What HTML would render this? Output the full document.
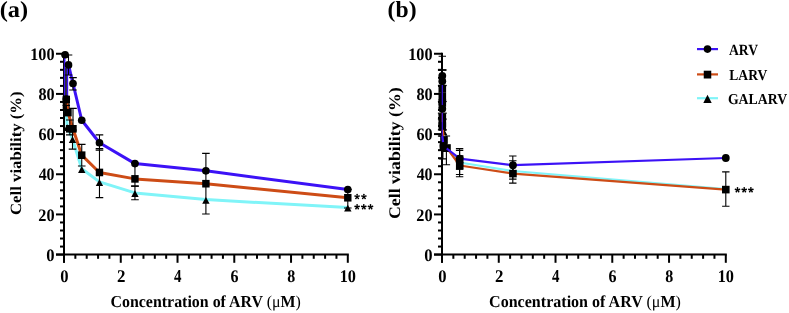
<!DOCTYPE html>
<html><head><meta charset="utf-8"><style>
html,body{margin:0;padding:0;background:#fff;width:789px;height:313px;overflow:hidden}
svg{display:block;will-change:transform}
text{font-family:"Liberation Serif",serif;font-weight:bold;fill:#000;text-rendering:geometricPrecision}
</style></head><body>
<svg width="789" height="313" viewBox="0 0 789 313">
<text font-size="23" transform="matrix(1.0586 0 0 0.9976 -0.26 16.84)">(a)</text>
<path d="M64.0 52.75V262.8" stroke="#000" stroke-width="2" fill="none"/>
<path d="M56.0 254.6H348.8" stroke="#000" stroke-width="2" fill="none"/>
<path d="M56.0 254.60H64.0" stroke="#000" stroke-width="2"/>
<path d="M60.0 246.57H64.0" stroke="#000" stroke-width="2"/>
<path d="M60.0 238.53H64.0" stroke="#000" stroke-width="2"/>
<path d="M60.0 230.50H64.0" stroke="#000" stroke-width="2"/>
<path d="M60.0 222.46H64.0" stroke="#000" stroke-width="2"/>
<path d="M56.0 214.43H64.0" stroke="#000" stroke-width="2"/>
<path d="M60.0 206.40H64.0" stroke="#000" stroke-width="2"/>
<path d="M60.0 198.36H64.0" stroke="#000" stroke-width="2"/>
<path d="M60.0 190.33H64.0" stroke="#000" stroke-width="2"/>
<path d="M60.0 182.29H64.0" stroke="#000" stroke-width="2"/>
<path d="M56.0 174.26H64.0" stroke="#000" stroke-width="2"/>
<path d="M60.0 166.23H64.0" stroke="#000" stroke-width="2"/>
<path d="M60.0 158.19H64.0" stroke="#000" stroke-width="2"/>
<path d="M60.0 150.16H64.0" stroke="#000" stroke-width="2"/>
<path d="M60.0 142.12H64.0" stroke="#000" stroke-width="2"/>
<path d="M56.0 134.09H64.0" stroke="#000" stroke-width="2"/>
<path d="M60.0 126.06H64.0" stroke="#000" stroke-width="2"/>
<path d="M60.0 118.02H64.0" stroke="#000" stroke-width="2"/>
<path d="M60.0 109.99H64.0" stroke="#000" stroke-width="2"/>
<path d="M60.0 101.95H64.0" stroke="#000" stroke-width="2"/>
<path d="M56.0 93.92H64.0" stroke="#000" stroke-width="2"/>
<path d="M60.0 85.89H64.0" stroke="#000" stroke-width="2"/>
<path d="M60.0 77.85H64.0" stroke="#000" stroke-width="2"/>
<path d="M60.0 69.82H64.0" stroke="#000" stroke-width="2"/>
<path d="M60.0 61.78H64.0" stroke="#000" stroke-width="2"/>
<path d="M56.0 53.75H64.0" stroke="#000" stroke-width="2"/>
<path d="M64.00 254.6V262.8" stroke="#000" stroke-width="2"/>
<path d="M75.35 254.6V258.8" stroke="#000" stroke-width="2"/>
<path d="M86.70 254.6V258.8" stroke="#000" stroke-width="2"/>
<path d="M98.06 254.6V258.8" stroke="#000" stroke-width="2"/>
<path d="M109.41 254.6V258.8" stroke="#000" stroke-width="2"/>
<path d="M120.76 254.6V262.8" stroke="#000" stroke-width="2"/>
<path d="M132.11 254.6V258.8" stroke="#000" stroke-width="2"/>
<path d="M143.46 254.6V258.8" stroke="#000" stroke-width="2"/>
<path d="M154.82 254.6V258.8" stroke="#000" stroke-width="2"/>
<path d="M166.17 254.6V258.8" stroke="#000" stroke-width="2"/>
<path d="M177.52 254.6V262.8" stroke="#000" stroke-width="2"/>
<path d="M188.87 254.6V258.8" stroke="#000" stroke-width="2"/>
<path d="M200.22 254.6V258.8" stroke="#000" stroke-width="2"/>
<path d="M211.58 254.6V258.8" stroke="#000" stroke-width="2"/>
<path d="M222.93 254.6V258.8" stroke="#000" stroke-width="2"/>
<path d="M234.28 254.6V262.8" stroke="#000" stroke-width="2"/>
<path d="M245.63 254.6V258.8" stroke="#000" stroke-width="2"/>
<path d="M256.98 254.6V258.8" stroke="#000" stroke-width="2"/>
<path d="M268.34 254.6V258.8" stroke="#000" stroke-width="2"/>
<path d="M279.69 254.6V258.8" stroke="#000" stroke-width="2"/>
<path d="M291.04 254.6V262.8" stroke="#000" stroke-width="2"/>
<path d="M302.39 254.6V258.8" stroke="#000" stroke-width="2"/>
<path d="M313.74 254.6V258.8" stroke="#000" stroke-width="2"/>
<path d="M325.10 254.6V258.8" stroke="#000" stroke-width="2"/>
<path d="M336.45 254.6V258.8" stroke="#000" stroke-width="2"/>
<path d="M347.80 254.6V262.8" stroke="#000" stroke-width="2"/>
<text font-size="16" transform="matrix(1.0370 0 0 1.0977 46.25 260.76)">0</text>
<text font-size="16" transform="matrix(1.0169 0 0 1.0977 38.26 220.59)">20</text>
<text font-size="16" transform="matrix(0.9917 0 0 1.0977 38.65 180.42)">40</text>
<text font-size="16" transform="matrix(1.0084 0 0 1.0977 38.40 140.25)">60</text>
<text font-size="16" transform="matrix(1.0084 0 0 1.0977 38.40 100.08)">80</text>
<text font-size="16" transform="matrix(1.0124 0 0 1.0977 30.23 59.91)">100</text>
<text font-size="16" transform="matrix(1.0370 0 0 1.1070 60.15 281.56)">0</text>
<text font-size="16" transform="matrix(1.0566 0 0 1.1200 116.90 281.70)">2</text>
<text font-size="16" transform="matrix(0.9333 0 0 1.1333 174.09 281.70)">4</text>
<text font-size="16" transform="matrix(1.0000 0 0 1.1070 230.58 281.56)">6</text>
<text font-size="16" transform="matrix(1.0000 0 0 1.1070 287.34 281.56)">8</text>
<text font-size="16" transform="matrix(1.0195 0 0 1.1070 339.63 281.56)">10</text>
<text font-size="16" transform="matrix(0.9955 0 0 1.0462 110.45 307.07)">Concentration of ARV <tspan font-weight="normal">(μ</tspan>M<tspan font-weight="normal">)</tspan></text>
<text font-size="16" transform="matrix(0 -1.0458 0.9778 0 20.88 214.98)">Cell viability (%)</text>
<path d="M66.00 106.00L67.20 127.00L72.50 139.00L81.74 168.80L99.47 181.90L134.95 192.90L205.90 199.60L347.80 207.50" stroke="#80f4f8" stroke-width="3" fill="none" stroke-linejoin="round"/>
<rect x="62.70" y="103.30" width="7.0" height="7.0" fill="#000"/>
<path d="M66.30 99.50L68.00 112.60L73.00 128.80L81.74 155.18L99.47 172.45L134.95 178.88L205.90 183.70L347.80 197.76" stroke="#cd4c16" stroke-width="3" fill="none" stroke-linejoin="round"/>
<path d="M64.70 56.00L64.70 98.00L67.40 98.00L67.40 64.90" stroke="#3c12f6" stroke-width="1.6" fill="none" stroke-linejoin="round"/>
<path d="M68.50 64.90L73.00 83.50L81.74 120.23L99.47 142.73L134.95 163.61L205.90 170.85L347.80 189.52" stroke="#3c12f6" stroke-width="3" fill="none" stroke-linejoin="round"/>
<path d="M65.10 55.00V55.00M61.30 55.00H68.90M61.30 55.00H68.90" stroke="#000" stroke-width="1.1" fill="none"/>
<path d="M68.50 55.00V75.00M64.70 55.00H72.30M64.70 75.00H72.30" stroke="#000" stroke-width="1.1" fill="none"/>
<path d="M73.00 77.60V90.00M69.20 77.60H76.80M69.20 90.00H76.80" stroke="#000" stroke-width="1.1" fill="none"/>
<path d="M73.00 108.40V130.00M69.20 108.40H76.80M69.20 130.00H76.80" stroke="#000" stroke-width="1.1" fill="none"/>
<path d="M72.50 131.00V149.10M68.70 131.00H76.30M68.70 149.10H76.30" stroke="#000" stroke-width="1.1" fill="none"/>
<path d="M69.80 120.00V134.90M66.00 120.00H73.60M66.00 134.90H73.60" stroke="#000" stroke-width="1.1" fill="none"/>
<path d="M81.74 144.40V166.00M77.94 144.40H85.54M77.94 166.00H85.54" stroke="#000" stroke-width="1.1" fill="none"/>
<path d="M99.47 134.90V150.10M95.67 134.90H103.27M95.67 150.10H103.27" stroke="#000" stroke-width="1.1" fill="none"/>
<path d="M99.47 148.60V197.60M95.67 148.60H103.27M95.67 197.60H103.27" stroke="#000" stroke-width="1.1" fill="none"/>
<path d="M134.95 163.20V186.10M131.15 163.20H138.75M131.15 186.10H138.75" stroke="#000" stroke-width="1.1" fill="none"/>
<path d="M134.95 186.10V199.80M131.15 186.10H138.75M131.15 199.80H138.75" stroke="#000" stroke-width="1.1" fill="none"/>
<path d="M205.90 153.40V214.00M202.10 153.40H209.70M202.10 214.00H209.70" stroke="#000" stroke-width="1.1" fill="none"/>
<path d="M347.80 189.50V208.00M344.00 189.50H351.60M344.00 208.00H351.60" stroke="#000" stroke-width="1.1" fill="none"/>
<path d="M66.30 105.50V110.00M62.60 105.50H70.00M62.60 110.00H70.00" stroke="#000" stroke-width="1.1" fill="none"/>
<path d="M66.0 68V110" stroke="#000" stroke-width="1.4"/>
<path d="M67.20 124.30L70.90 131.10L63.50 131.10Z" fill="#000"/>
<path d="M72.50 136.30L76.20 143.10L68.80 143.10Z" fill="#000"/>
<path d="M81.74 166.10L85.44 172.90L78.04 172.90Z" fill="#000"/>
<path d="M99.47 179.20L103.17 186.00L95.77 186.00Z" fill="#000"/>
<path d="M134.95 190.20L138.65 197.00L131.25 197.00Z" fill="#000"/>
<path d="M205.90 196.90L209.60 203.70L202.20 203.70Z" fill="#000"/>
<path d="M347.80 204.80L351.50 211.60L344.10 211.60Z" fill="#000"/>
<rect x="62.60" y="95.70" width="7.4" height="7.6" fill="#000"/>
<rect x="64.30" y="108.80" width="7.4" height="7.6" fill="#000"/>
<rect x="69.30" y="125.00" width="7.4" height="7.6" fill="#000"/>
<rect x="78.04" y="151.38" width="7.4" height="7.6" fill="#000"/>
<rect x="95.77" y="168.65" width="7.4" height="7.6" fill="#000"/>
<rect x="131.25" y="175.08" width="7.4" height="7.6" fill="#000"/>
<rect x="202.20" y="179.90" width="7.4" height="7.6" fill="#000"/>
<rect x="344.10" y="193.96" width="7.4" height="7.6" fill="#000"/>
<rect x="65.90" y="125.00" width="7.4" height="7.6" fill="#000"/>
<ellipse cx="65.11" cy="54.75" rx="3.85" ry="3.85" fill="#000"/>
<ellipse cx="66.30" cy="99.00" rx="3.85" ry="3.85" fill="#000"/>
<ellipse cx="68.50" cy="64.90" rx="3.85" ry="3.85" fill="#000"/>
<ellipse cx="73.00" cy="83.50" rx="3.85" ry="3.85" fill="#000"/>
<ellipse cx="81.74" cy="120.23" rx="3.85" ry="3.85" fill="#000"/>
<ellipse cx="99.47" cy="142.73" rx="3.85" ry="3.85" fill="#000"/>
<ellipse cx="134.95" cy="163.61" rx="3.85" ry="3.85" fill="#000"/>
<ellipse cx="205.90" cy="170.85" rx="3.85" ry="3.85" fill="#000"/>
<ellipse cx="347.80" cy="189.52" rx="3.85" ry="3.85" fill="#000"/>
<path d="M357.35 196.70L357.95 194.60A0.85 0.85 0 0 0 356.25 194.60L356.85 196.70ZM357.18 196.94L359.36 196.86A0.85 0.85 0 0 0 358.83 195.24L357.02 196.46ZM356.90 196.85L357.65 198.90A0.85 0.85 0 0 0 359.02 197.90L357.30 196.55ZM356.90 196.55L355.18 197.90A0.85 0.85 0 0 0 356.55 198.90L357.30 196.85ZM357.18 196.46L355.37 195.24A0.85 0.85 0 0 0 354.84 196.86L357.02 196.94Z" fill="#000"/>
<circle cx="357.10" cy="196.70" r="0.9" fill="#000"/>
<path d="M364.15 196.70L364.75 194.60A0.85 0.85 0 0 0 363.05 194.60L363.65 196.70ZM363.98 196.94L366.16 196.86A0.85 0.85 0 0 0 365.63 195.24L363.82 196.46ZM363.70 196.85L364.45 198.90A0.85 0.85 0 0 0 365.82 197.90L364.10 196.55ZM363.70 196.55L361.98 197.90A0.85 0.85 0 0 0 363.35 198.90L364.10 196.85ZM363.98 196.46L362.17 195.24A0.85 0.85 0 0 0 361.64 196.86L363.82 196.94Z" fill="#000"/>
<circle cx="363.90" cy="196.70" r="0.9" fill="#000"/>
<path d="M357.35 207.00L357.95 204.90A0.85 0.85 0 0 0 356.25 204.90L356.85 207.00ZM357.18 207.24L359.36 207.16A0.85 0.85 0 0 0 358.83 205.54L357.02 206.76ZM356.90 207.15L357.65 209.20A0.85 0.85 0 0 0 359.02 208.20L357.30 206.85ZM356.90 206.85L355.18 208.20A0.85 0.85 0 0 0 356.55 209.20L357.30 207.15ZM357.18 206.76L355.37 205.54A0.85 0.85 0 0 0 354.84 207.16L357.02 207.24Z" fill="#000"/>
<circle cx="357.10" cy="207.00" r="0.9" fill="#000"/>
<path d="M364.05 207.00L364.65 204.90A0.85 0.85 0 0 0 362.95 204.90L363.55 207.00ZM363.88 207.24L366.06 207.16A0.85 0.85 0 0 0 365.53 205.54L363.72 206.76ZM363.60 207.15L364.35 209.20A0.85 0.85 0 0 0 365.72 208.20L364.00 206.85ZM363.60 206.85L361.88 208.20A0.85 0.85 0 0 0 363.25 209.20L364.00 207.15ZM363.88 206.76L362.07 205.54A0.85 0.85 0 0 0 361.54 207.16L363.72 207.24Z" fill="#000"/>
<circle cx="363.80" cy="207.00" r="0.9" fill="#000"/>
<path d="M370.75 207.00L371.35 204.90A0.85 0.85 0 0 0 369.65 204.90L370.25 207.00ZM370.58 207.24L372.76 207.16A0.85 0.85 0 0 0 372.23 205.54L370.42 206.76ZM370.30 207.15L371.05 209.20A0.85 0.85 0 0 0 372.42 208.20L370.70 206.85ZM370.30 206.85L368.58 208.20A0.85 0.85 0 0 0 369.95 209.20L370.70 207.15ZM370.58 206.76L368.77 205.54A0.85 0.85 0 0 0 368.24 207.16L370.42 207.24Z" fill="#000"/>
<circle cx="370.50" cy="207.00" r="0.9" fill="#000"/>
<text font-size="23" transform="matrix(1.0297 0 0 1.0060 387.57 17.10)">(b)</text>
<path d="M442.0 52.75V262.8" stroke="#000" stroke-width="2" fill="none"/>
<path d="M434.0 254.6H726.8" stroke="#000" stroke-width="2" fill="none"/>
<path d="M434.0 254.60H442.0" stroke="#000" stroke-width="2"/>
<path d="M438.0 246.57H442.0" stroke="#000" stroke-width="2"/>
<path d="M438.0 238.53H442.0" stroke="#000" stroke-width="2"/>
<path d="M438.0 230.50H442.0" stroke="#000" stroke-width="2"/>
<path d="M438.0 222.46H442.0" stroke="#000" stroke-width="2"/>
<path d="M434.0 214.43H442.0" stroke="#000" stroke-width="2"/>
<path d="M438.0 206.40H442.0" stroke="#000" stroke-width="2"/>
<path d="M438.0 198.36H442.0" stroke="#000" stroke-width="2"/>
<path d="M438.0 190.33H442.0" stroke="#000" stroke-width="2"/>
<path d="M438.0 182.29H442.0" stroke="#000" stroke-width="2"/>
<path d="M434.0 174.26H442.0" stroke="#000" stroke-width="2"/>
<path d="M438.0 166.23H442.0" stroke="#000" stroke-width="2"/>
<path d="M438.0 158.19H442.0" stroke="#000" stroke-width="2"/>
<path d="M438.0 150.16H442.0" stroke="#000" stroke-width="2"/>
<path d="M438.0 142.12H442.0" stroke="#000" stroke-width="2"/>
<path d="M434.0 134.09H442.0" stroke="#000" stroke-width="2"/>
<path d="M438.0 126.06H442.0" stroke="#000" stroke-width="2"/>
<path d="M438.0 118.02H442.0" stroke="#000" stroke-width="2"/>
<path d="M438.0 109.99H442.0" stroke="#000" stroke-width="2"/>
<path d="M438.0 101.95H442.0" stroke="#000" stroke-width="2"/>
<path d="M434.0 93.92H442.0" stroke="#000" stroke-width="2"/>
<path d="M438.0 85.89H442.0" stroke="#000" stroke-width="2"/>
<path d="M438.0 77.85H442.0" stroke="#000" stroke-width="2"/>
<path d="M438.0 69.82H442.0" stroke="#000" stroke-width="2"/>
<path d="M438.0 61.78H442.0" stroke="#000" stroke-width="2"/>
<path d="M434.0 53.75H442.0" stroke="#000" stroke-width="2"/>
<path d="M442.00 254.6V262.8" stroke="#000" stroke-width="2"/>
<path d="M453.35 254.6V258.8" stroke="#000" stroke-width="2"/>
<path d="M464.70 254.6V258.8" stroke="#000" stroke-width="2"/>
<path d="M476.06 254.6V258.8" stroke="#000" stroke-width="2"/>
<path d="M487.41 254.6V258.8" stroke="#000" stroke-width="2"/>
<path d="M498.76 254.6V262.8" stroke="#000" stroke-width="2"/>
<path d="M510.11 254.6V258.8" stroke="#000" stroke-width="2"/>
<path d="M521.46 254.6V258.8" stroke="#000" stroke-width="2"/>
<path d="M532.82 254.6V258.8" stroke="#000" stroke-width="2"/>
<path d="M544.17 254.6V258.8" stroke="#000" stroke-width="2"/>
<path d="M555.52 254.6V262.8" stroke="#000" stroke-width="2"/>
<path d="M566.87 254.6V258.8" stroke="#000" stroke-width="2"/>
<path d="M578.22 254.6V258.8" stroke="#000" stroke-width="2"/>
<path d="M589.58 254.6V258.8" stroke="#000" stroke-width="2"/>
<path d="M600.93 254.6V258.8" stroke="#000" stroke-width="2"/>
<path d="M612.28 254.6V262.8" stroke="#000" stroke-width="2"/>
<path d="M623.63 254.6V258.8" stroke="#000" stroke-width="2"/>
<path d="M634.98 254.6V258.8" stroke="#000" stroke-width="2"/>
<path d="M646.34 254.6V258.8" stroke="#000" stroke-width="2"/>
<path d="M657.69 254.6V258.8" stroke="#000" stroke-width="2"/>
<path d="M669.04 254.6V262.8" stroke="#000" stroke-width="2"/>
<path d="M680.39 254.6V258.8" stroke="#000" stroke-width="2"/>
<path d="M691.74 254.6V258.8" stroke="#000" stroke-width="2"/>
<path d="M703.10 254.6V258.8" stroke="#000" stroke-width="2"/>
<path d="M714.45 254.6V258.8" stroke="#000" stroke-width="2"/>
<path d="M725.80 254.6V262.8" stroke="#000" stroke-width="2"/>
<text font-size="16" transform="matrix(1.0370 0 0 1.0977 424.25 260.76)">0</text>
<text font-size="16" transform="matrix(1.0169 0 0 1.0977 416.26 220.59)">20</text>
<text font-size="16" transform="matrix(0.9917 0 0 1.0977 416.65 180.42)">40</text>
<text font-size="16" transform="matrix(1.0084 0 0 1.0977 416.40 140.25)">60</text>
<text font-size="16" transform="matrix(1.0084 0 0 1.0977 416.40 100.08)">80</text>
<text font-size="16" transform="matrix(1.0124 0 0 1.0977 408.23 59.91)">100</text>
<text font-size="16" transform="matrix(1.0370 0 0 1.1070 438.15 281.56)">0</text>
<text font-size="16" transform="matrix(1.0566 0 0 1.1200 494.90 281.70)">2</text>
<text font-size="16" transform="matrix(0.9333 0 0 1.1333 552.09 281.70)">4</text>
<text font-size="16" transform="matrix(1.0000 0 0 1.1070 608.58 281.56)">6</text>
<text font-size="16" transform="matrix(1.0000 0 0 1.1070 665.34 281.56)">8</text>
<text font-size="16" transform="matrix(1.0195 0 0 1.1070 717.63 281.56)">10</text>
<text font-size="16" transform="matrix(1.0034 0 0 1.0462 489.05 307.07)">Concentration of ARV <tspan font-weight="normal">(μ</tspan>M<tspan font-weight="normal">)</tspan></text>
<text font-size="16" transform="matrix(0 -1.1143 1.0120 0 399.76 219.04)">Cell viability (%)</text>
<path d="M442.30 56.20V70.00M438.60 56.20H446.00M438.60 70.00H446.00" stroke="#000" stroke-width="1.1" fill="none"/>
<path d="M442.30 70.00V104.00M438.60 70.00H446.00M438.60 104.00H446.00" stroke="#000" stroke-width="1.1" fill="none"/>
<path d="M442.30 104.00V130.00M438.60 104.00H446.00M438.60 130.00H446.00" stroke="#000" stroke-width="1.1" fill="none"/>
<path d="M442.30 107.60V136.00M438.60 107.60H446.00M438.60 136.00H446.00" stroke="#000" stroke-width="1.1" fill="none"/>
<path d="M442.30 114.80V129.80M438.60 114.80H446.00M438.60 129.80H446.00" stroke="#000" stroke-width="1.1" fill="none"/>
<path d="M442.90 130.00V158.90M439.20 130.00H446.60M439.20 158.90H446.60" stroke="#000" stroke-width="1.1" fill="none"/>
<path d="M446.40 136.00V164.70M442.70 136.00H450.10M442.70 164.70H450.10" stroke="#000" stroke-width="1.1" fill="none"/>
<path d="M459.60 148.60V176.80M455.90 148.60H463.30M455.90 176.80H463.30" stroke="#000" stroke-width="1.1" fill="none"/>
<path d="M459.60 150.40V169.30M455.90 150.40H463.30M455.90 169.30H463.30" stroke="#000" stroke-width="1.1" fill="none"/>
<path d="M459.60 160.00V174.50M455.90 160.00H463.30M455.90 174.50H463.30" stroke="#000" stroke-width="1.1" fill="none"/>
<path d="M512.80 156.00V183.10M509.10 156.00H516.50M509.10 183.10H516.50" stroke="#000" stroke-width="1.1" fill="none"/>
<path d="M512.80 160.80V179.10M509.10 160.80H516.50M509.10 179.10H516.50" stroke="#000" stroke-width="1.1" fill="none"/>
<path d="M725.80 171.90V206.30M722.10 171.90H729.50M722.10 206.30H729.50" stroke="#000" stroke-width="1.1" fill="none"/>
<path d="M437.9 70.0H446.7" stroke="#000" stroke-width="1.3"/>
<path d="M437.9 85.5H446.7" stroke="#000" stroke-width="1.3"/>
<path d="M437.9 101.5H446.7" stroke="#000" stroke-width="1.3"/>
<path d="M437.9 113.2H446.7" stroke="#000" stroke-width="1.3"/>
<path d="M437.9 119.1H446.7" stroke="#000" stroke-width="1.3"/>
<path d="M437.9 129.8H446.7" stroke="#000" stroke-width="1.3"/>
<path d="M437.9 136.0H446.7" stroke="#000" stroke-width="1.3"/>
<path d="M442.30 117.00L442.30 123.50L443.50 131.00" stroke="#80f4f8" stroke-width="1.1" fill="none" stroke-linejoin="round"/>
<path d="M443.50 131.00L446.00 148.00L459.74 162.50L512.95 171.00L725.80 189.00" stroke="#80f4f8" stroke-width="2.2" fill="none" stroke-linejoin="round"/>
<path d="M443.50 128.00L447.20 135.00L439.80 135.00Z" fill="#000"/>
<path d="M446.00 145.00L449.70 152.00L442.30 152.00Z" fill="#000"/>
<path d="M459.74 159.50L463.44 166.50L456.04 166.50Z" fill="#000"/>
<path d="M512.95 168.00L516.65 175.00L509.25 175.00Z" fill="#000"/>
<rect x="438.50" y="113.50" width="7.6" height="7.0" fill="#000"/>
<rect x="438.50" y="120.00" width="7.6" height="7.0" fill="#000"/>
<path d="M459.60 162.50L463.30 169.50L455.90 169.50Z" fill="#000"/>
<path d="M442.30 89.00L442.30 96.50L442.30 103.00L442.30 126.00" stroke="#cd4c16" stroke-width="1.1" fill="none" stroke-linejoin="round"/>
<path d="M442.30 126.00L444.00 140.00L447.00 148.00L459.74 165.50L512.95 173.60L725.80 189.60" stroke="#cd4c16" stroke-width="2.2" fill="none" stroke-linejoin="round"/>
<rect x="438.50" y="85.20" width="7.6" height="7.6" fill="#000"/>
<rect x="438.50" y="92.70" width="7.6" height="7.6" fill="#000"/>
<rect x="438.50" y="99.20" width="7.6" height="7.6" fill="#000"/>
<rect x="438.50" y="122.20" width="7.6" height="7.6" fill="#000"/>
<rect x="440.20" y="136.20" width="7.6" height="7.6" fill="#000"/>
<rect x="443.20" y="144.20" width="7.6" height="7.6" fill="#000"/>
<rect x="455.94" y="161.70" width="7.6" height="7.6" fill="#000"/>
<rect x="509.15" y="169.80" width="7.6" height="7.6" fill="#000"/>
<rect x="722.00" y="185.80" width="7.6" height="7.6" fill="#000"/>
<rect x="455.80" y="155.20" width="7.6" height="7.6" fill="#000"/>
<rect x="439.70" y="142.70" width="7.6" height="7.6" fill="#000"/>
<path d="M442.30 75.80L442.30 81.20L442.30 108.80L442.30 136.00" stroke="#3c12f6" stroke-width="1.1" fill="none" stroke-linejoin="round"/>
<path d="M442.30 136.00L443.50 146.00L459.74 158.60L512.95 165.20L725.80 158.00" stroke="#3c12f6" stroke-width="2.2" fill="none" stroke-linejoin="round"/>
<ellipse cx="442.30" cy="75.80" rx="3.9" ry="3.9" fill="#000"/>
<ellipse cx="442.30" cy="81.20" rx="3.9" ry="3.9" fill="#000"/>
<ellipse cx="442.30" cy="108.80" rx="3.9" ry="3.9" fill="#000"/>
<ellipse cx="443.50" cy="146.00" rx="3.9" ry="3.9" fill="#000"/>
<ellipse cx="459.74" cy="158.60" rx="3.9" ry="3.9" fill="#000"/>
<ellipse cx="512.95" cy="165.20" rx="3.9" ry="3.9" fill="#000"/>
<ellipse cx="725.80" cy="158.00" rx="3.9" ry="3.9" fill="#000"/>
<path d="M737.75 190.00L738.35 187.90A0.85 0.85 0 0 0 736.65 187.90L737.25 190.00ZM737.58 190.24L739.76 190.16A0.85 0.85 0 0 0 739.23 188.54L737.42 189.76ZM737.30 190.15L738.05 192.20A0.85 0.85 0 0 0 739.42 191.20L737.70 189.85ZM737.30 189.85L735.58 191.20A0.85 0.85 0 0 0 736.95 192.20L737.70 190.15ZM737.58 189.76L735.77 188.54A0.85 0.85 0 0 0 735.24 190.16L737.42 190.24Z" fill="#000"/>
<circle cx="737.50" cy="190.00" r="0.9" fill="#000"/>
<path d="M744.45 190.00L745.05 187.90A0.85 0.85 0 0 0 743.35 187.90L743.95 190.00ZM744.28 190.24L746.46 190.16A0.85 0.85 0 0 0 745.93 188.54L744.12 189.76ZM744.00 190.15L744.75 192.20A0.85 0.85 0 0 0 746.12 191.20L744.40 189.85ZM744.00 189.85L742.28 191.20A0.85 0.85 0 0 0 743.65 192.20L744.40 190.15ZM744.28 189.76L742.47 188.54A0.85 0.85 0 0 0 741.94 190.16L744.12 190.24Z" fill="#000"/>
<circle cx="744.20" cy="190.00" r="0.9" fill="#000"/>
<path d="M751.15 190.00L751.75 187.90A0.85 0.85 0 0 0 750.05 187.90L750.65 190.00ZM750.98 190.24L753.16 190.16A0.85 0.85 0 0 0 752.63 188.54L750.82 189.76ZM750.70 190.15L751.45 192.20A0.85 0.85 0 0 0 752.82 191.20L751.10 189.85ZM750.70 189.85L748.98 191.20A0.85 0.85 0 0 0 750.35 192.20L751.10 190.15ZM750.98 189.76L749.17 188.54A0.85 0.85 0 0 0 748.64 190.16L750.82 190.24Z" fill="#000"/>
<circle cx="750.90" cy="190.00" r="0.9" fill="#000"/>
<path d="M697.0 49.1H718.0" stroke="#3c12f6" stroke-width="2.2"/>
<ellipse cx="707.50" cy="49.10" rx="3.8" ry="3.8" fill="#000"/>
<text font-size="15" transform="matrix(0.9075 0 0 1.0370 728.99 54.74)">ARV</text>
<path d="M697.0 74.4H718.0" stroke="#cd4c16" stroke-width="2.2"/>
<rect x="703.75" y="70.70" width="7.5" height="7.8" fill="#000"/>
<text font-size="15" transform="matrix(0.9057 0 0 1.0074 729.27 79.75)">LARV</text>
<path d="M697.0 98.2H718.0" stroke="#80f4f8" stroke-width="2.2"/>
<path d="M707.50 94.70L711.70 102.90L703.30 102.90Z" fill="#000"/>
<text font-size="15" transform="matrix(0.9179 0 0 1.0074 727.91 103.75)">GALARV</text>
</svg>
</body></html>
